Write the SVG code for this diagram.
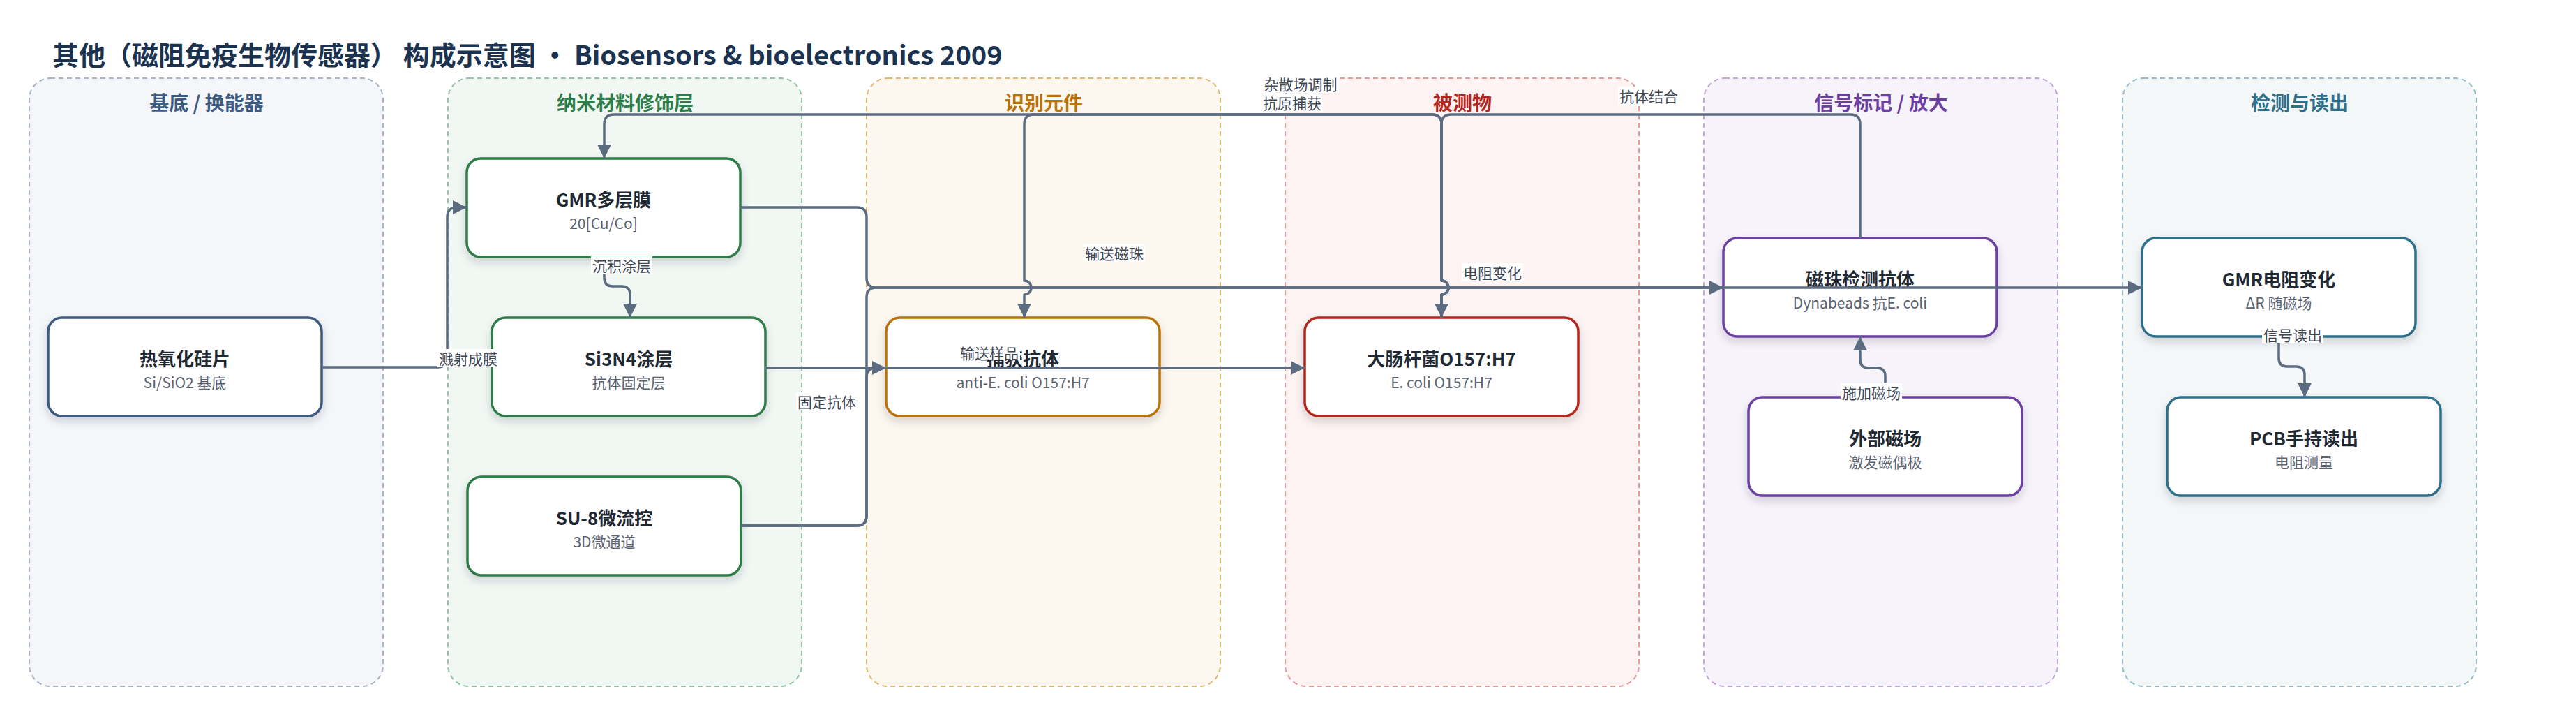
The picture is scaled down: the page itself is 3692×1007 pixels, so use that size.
<svg xmlns="http://www.w3.org/2000/svg" width="3692" height="1007" viewBox="0 0 3692 1007">
<defs>
<style>
text{font-family:"Noto Sans CJK SC","Noto Sans",sans-serif;}
.lane{stroke-width:2;stroke-dasharray:7 5;}
.lt{font-size:28px;font-weight:700;text-anchor:middle;}
.node{fill:#ffffff;stroke-width:3.5;filter:url(#sh);}
.nt{font-size:26px;font-weight:700;fill:#1f2933;text-anchor:middle;dominant-baseline:central;}
.ns{font-size:21px;fill:#5a6270;text-anchor:middle;dominant-baseline:central;}
.e{fill:none;stroke:#5b6b80;stroke-width:3.5;stroke-linejoin:round;}
.a{marker-end:url(#arr);}
.lb{fill:#ffffff;}
.lx{font-size:21px;fill:#3e4654;text-anchor:middle;dominant-baseline:central;}
</style>
<filter id="sh" x="-10%" y="-10%" width="120%" height="135%">
<feDropShadow dx="0" dy="6" stdDeviation="6" flood-color="#1f2a3a" flood-opacity="0.18"/>
</filter>
<marker id="arr" markerUnits="userSpaceOnUse" markerWidth="22" markerHeight="22" viewBox="0 0 22 22" refX="21" refY="11" orient="auto">
<path d="M1,1 L21,11 L1,21 Z" fill="#5b6b80"/>
</marker>
</defs>
<rect width="3692" height="1007" fill="#ffffff"/>
<text x="75" y="93" font-size="38" font-weight="700" fill="#1b3350">其他（磁阻免疫生物传感器） 构成示意图 • Biosensors &amp; bioelectronics 2009</text>

<g id="lanes">
<g id="lane-substrate">
<rect class="lane" x="42" y="112" width="507" height="871" rx="30" fill="#f4f6fa" stroke="#a7b4c6"/>
<text class="lt" x="296" y="158" fill="#3d5a80">基底 / 换能器</text>
</g>
<g id="lane-nano">
<rect class="lane" x="642" y="112" width="507" height="871" rx="30" fill="#f1f8f3" stroke="#93c4a3"/>
<text class="lt" x="896" y="158" fill="#2e7d4a">纳米材料修饰层</text>
</g>
<g id="lane-recog">
<rect class="lane" x="1242" y="112" width="507" height="871" rx="30" fill="#fdf8ef" stroke="#e3b871"/>
<text class="lt" x="1496" y="158" fill="#b8730a">识别元件</text>
</g>
<g id="lane-analyte">
<rect class="lane" x="1842" y="112" width="507" height="871" rx="30" fill="#fdf3f2" stroke="#e39a9a"/>
<text class="lt" x="2096" y="158" fill="#b3261e">被测物</text>
</g>
<g id="lane-label">
<rect class="lane" x="2442" y="112" width="507" height="871" rx="30" fill="#f7f3fb" stroke="#c3a6dc"/>
<text class="lt" x="2696" y="158" fill="#6b3fa0">信号标记 / 放大</text>
</g>
<g id="lane-readout">
<rect class="lane" x="3042" y="112" width="507" height="871" rx="30" fill="#f3f7f8" stroke="#96bccb"/>
<text class="lt" x="3296" y="158" fill="#2f6f8a">检测与读出</text>
</g>
</g>

<g id="nodes">
<g id="n-wafer">
<rect class="node" x="69" y="455" width="392" height="141" rx="20" stroke="#3d5a80"/>
<text class="nt" x="265" y="512">热氧化硅片</text>
<text class="ns" x="265" y="547">Si/SiO2 基底</text>
</g>
<g id="n-gmr">
<rect class="node" x="669" y="227" width="392" height="141" rx="20" stroke="#2e7d4a"/>
<text class="nt" x="865" y="284">GMR多层膜</text>
<text class="ns" x="865" y="319">20[Cu/Co]</text>
</g>
<g id="n-si3n4">
<rect class="node" x="705" y="455" width="392" height="141" rx="20" stroke="#2e7d4a"/>
<text class="nt" x="901" y="512">Si3N4涂层</text>
<text class="ns" x="901" y="547">抗体固定层</text>
</g>
<g id="n-su8">
<rect class="node" x="670" y="683" width="392" height="141" rx="20" stroke="#2e7d4a"/>
<text class="nt" x="866" y="740">SU-8微流控</text>
<text class="ns" x="866" y="775">3D微通道</text>
</g>
<g id="n-ab">
<rect class="node" x="1270" y="455" width="392" height="141" rx="20" stroke="#b8730a"/>
<text class="nt" x="1466" y="512">捕获抗体</text>
<text class="ns" x="1466" y="547">anti-E. coli O157:H7</text>
</g>
<g id="n-ecoli">
<rect class="node" x="1870" y="455" width="392" height="141" rx="20" stroke="#b3261e"/>
<text class="nt" x="2066" y="512">大肠杆菌O157:H7</text>
<text class="ns" x="2066" y="547">E. coli O157:H7</text>
</g>
<g id="n-bead">
<rect class="node" x="2470" y="341" width="392" height="141" rx="20" stroke="#6b3fa0"/>
<text class="nt" x="2666" y="398">磁珠检测抗体</text>
<text class="ns" x="2666" y="433">Dynabeads 抗E. coli</text>
</g>
<g id="n-field">
<rect class="node" x="2506" y="569" width="392" height="141" rx="20" stroke="#6b3fa0"/>
<text class="nt" x="2702" y="626">外部磁场</text>
<text class="ns" x="2702" y="661">激发磁偶极</text>
</g>
<g id="n-dr">
<rect class="node" x="3070" y="341" width="392" height="141" rx="20" stroke="#2f6f8a"/>
<text class="nt" x="3266" y="398">GMR电阻变化</text>
<text class="ns" x="3266" y="433">ΔR 随磁场</text>
</g>
<g id="n-pcb">
<rect class="node" x="3106" y="569" width="392" height="141" rx="20" stroke="#2f6f8a"/>
<text class="nt" x="3302" y="626">PCB手持读出</text>
<text class="ns" x="3302" y="661">电阻测量</text>
</g>
</g>

<g id="connectors">
<path class="e a" d="M461,526 H627 Q641,526 641,512 V311 Q641,297 655,297 H669"/>
<path class="e a" d="M866,368 V398 Q866,410 878,410 H891 Q903,410 903,422 V455"/>
<path class="e a" d="M1097,527 H1270"/>
<path class="e a" d="M1062,753 H1228 Q1242,753 1242,739 V541 Q1242,527 1256,527 H1870"/>
<path class="e a" d="M1062,753 H1228 Q1242,753 1242,739 V426 Q1242,412 1256,412 H2470"/>
<path class="e a" d="M1061,297 H1228 Q1242,297 1242,311 V398 Q1242,412 1256,412 H3070"/>
<path class="e a" d="M2066,455 V422 A10,10 0 0 0 2066,402 V178 Q2066,164 2052,164 H880 Q866,164 866,178 V227"/>
<path class="e a" d="M2066,455 V422 A10,10 0 0 0 2066,402 V178 Q2066,164 2052,164 H1482 Q1468,164 1468,178 V402 A10,10 0 0 1 1468,422 V455"/>
<path class="e a" d="M2666,341 V178 Q2666,164 2652,164 H2080 Q2066,164 2066,178 V402 A10,10 0 0 1 2066,422 V455"/>
<path class="e a" d="M2702,569 V539 Q2702,527 2690,527 H2678 Q2666,527 2666,515 V482"/>
<path class="e a" d="M3266,482 V513 Q3266,525 3278,525 H3291 Q3303,525 3303,537 V569"/>
</g>

<g id="edge-labels">
<rect class="lb" x="627" y="500" width="88" height="26"/><text class="lx" x="671" y="513">溅射成膜</text>
<rect class="lb" x="847" y="367" width="88" height="26"/><text class="lx" x="891" y="380">沉积涂层</text>
<rect class="lb" x="1141" y="562" width="88" height="26"/><text class="lx" x="1185" y="575">固定抗体</text>
<rect class="lb" x="1374" y="494" width="88" height="22"/><text class="lx" x="1418" y="505">输送样品</text>
<rect class="lb" x="1553" y="349" width="88" height="26"/><text class="lx" x="1597" y="362">输送磁珠</text>
<rect class="lb" x="2095" y="377" width="88" height="26"/><text class="lx" x="2139" y="390">电阻变化</text>
<rect class="lb" x="1809" y="107" width="110" height="26"/><text class="lx" x="1864" y="120">杂散场调制</text>
<rect class="lb" x="1808" y="134" width="88" height="26"/><text class="lx" x="1852" y="147">抗原捕获</text>
<rect class="lb" x="2319" y="124" width="88" height="26"/><text class="lx" x="2363" y="137">抗体结合</text>
<rect class="lb" x="2638" y="549" width="88" height="26"/><text class="lx" x="2682" y="562">施加磁场</text>
<rect class="lb" x="3242" y="466" width="88" height="26"/><text class="lx" x="3286" y="479">信号读出</text>
</g>
</svg>
